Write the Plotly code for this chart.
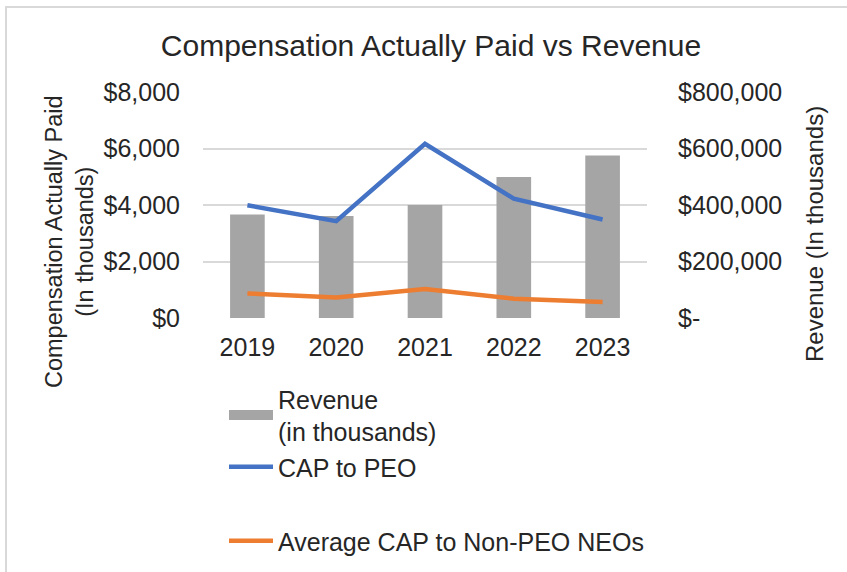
import plotly.graph_objects as go

years = ["2019", "2020", "2021", "2022", "2023"]
revenue = [366000, 361000, 400000, 499000, 575000]
cap_peo = [3990, 3430, 6165, 4225, 3485]
cap_non_peo = [870, 730, 1025, 685, 565]

left_ticks = [0, 2000, 4000, 6000, 8000]
left_ticktext = ["$0", "$2,000", "$4,000", "$6,000", "$8,000"]
right_ticks = [0, 200000, 400000, 600000, 800000]
right_ticktext = ["$-", "$200,000", "$400,000", "$600,000", "$800,000"]

FONT = "Liberation Sans, Arial, sans-serif"
TXT = "#262626"
BAR_COLOR = "#A5A5A5"

W, H = 847, 572
L, R, T, B = 203, 200, 92, 254
PW, PH = W - L - R, H - T - B


def px_x(px):
    return (px - L) / PW


def px_y(py):
    return (H - B - py) / PH


fig = go.Figure()
# Revenue bars on the primary (right-side) axis so the lines draw on top
fig.add_trace(go.Bar(
    x=years, y=revenue, name="Revenue<br>(in thousands)",
    marker=dict(color=BAR_COLOR, line=dict(width=0)),
    width=0.39, yaxis="y", showlegend=False,
))
# legend entry for revenue (wide swatch like the original)
fig.add_trace(go.Scatter(
    x=[None], y=[None], name="Revenue<br>(in thousands)", mode="lines",
    line=dict(color=BAR_COLOR, width=10), yaxis="y", legend="legend",
    hoverinfo="skip",
))
fig.add_trace(go.Scatter(
    x=years, y=cap_peo, name="CAP to PEO", mode="lines",
    line=dict(color="#4472C4", width=4.5), yaxis="y2", legend="legend",
))
fig.add_trace(go.Scatter(
    x=years, y=cap_non_peo, name="Average CAP to Non-PEO NEOs", mode="lines",
    line=dict(color="#ED7D31", width=4.5), yaxis="y2", legend="legend2",
))

fig.update_layout(
    width=W, height=H,
    margin=dict(l=L, r=R, t=T, b=B, pad=0, autoexpand=False),
    paper_bgcolor="white", plot_bgcolor="white",
    font=dict(family=FONT, size=25, color=TXT),
    title=dict(text="Compensation Actually Paid vs Revenue",
               x=431 / W, xanchor="center", y=1 - 45 / H, yanchor="middle",
               yref="container", font=dict(size=30, color=TXT)),
    xaxis=dict(type="category", showgrid=False, showline=False, ticks="",
               tickfont=dict(size=25, color=TXT), ticklabelstandoff=12,
               automargin=False),
    # revenue axis (right side) carries the gridlines, drawn beneath everything
    yaxis=dict(range=[0, 800000], tickvals=right_ticks, ticktext=right_ticktext,
               side="right", showgrid=True, gridcolor="#D9D9D9", gridwidth=1.5,
               zeroline=False, showline=False, ticks="",
               tickfont=dict(size=25, color=TXT), ticklabelstandoff=30,
               automargin=False),
    # compensation axis (left side) overlays it
    yaxis2=dict(range=[0, 8000], tickvals=left_ticks, ticktext=left_ticktext,
                overlaying="y", side="left", showgrid=False, zeroline=False,
                showline=False, ticks="",
                tickfont=dict(size=25, color=TXT), ticklabelstandoff=22,
                automargin=False),
    legend=dict(x=px_x(224), xanchor="left", y=px_y(376), yanchor="top",
                font=dict(size=25, color=TXT), bgcolor="rgba(0,0,0,0)",
                traceorder="normal", itemwidth=44, tracegroupgap=0),
    legend2=dict(x=px_x(224), xanchor="left", y=px_y(518), yanchor="top",
                 font=dict(size=25, color=TXT), bgcolor="rgba(0,0,0,0)",
                 itemwidth=44),
    showlegend=True,
)

fig.add_annotation(
    text="Compensation Actually Paid<br>(In thousands)",
    xref="paper", yref="paper", x=px_x(70), y=px_y(242),
    xanchor="center", yanchor="middle", textangle=-90, showarrow=False,
    font=dict(size=23.5, color=TXT),
)
fig.add_annotation(
    text="Revenue (In thousands)",
    xref="paper", yref="paper", x=px_x(814), y=px_y(234),
    xanchor="center", yanchor="middle", textangle=-90, showarrow=False,
    font=dict(size=24, color=TXT),
)

fig.add_shape(type="rect", xref="paper", yref="paper",
              x0=px_x(6), x1=px_x(W + 20), y0=px_y(H + 20), y1=px_y(7),
              line=dict(color="#D9D9D9", width=2), fillcolor="rgba(0,0,0,0)",
              layer="below")

fig.write_html("out.html")
